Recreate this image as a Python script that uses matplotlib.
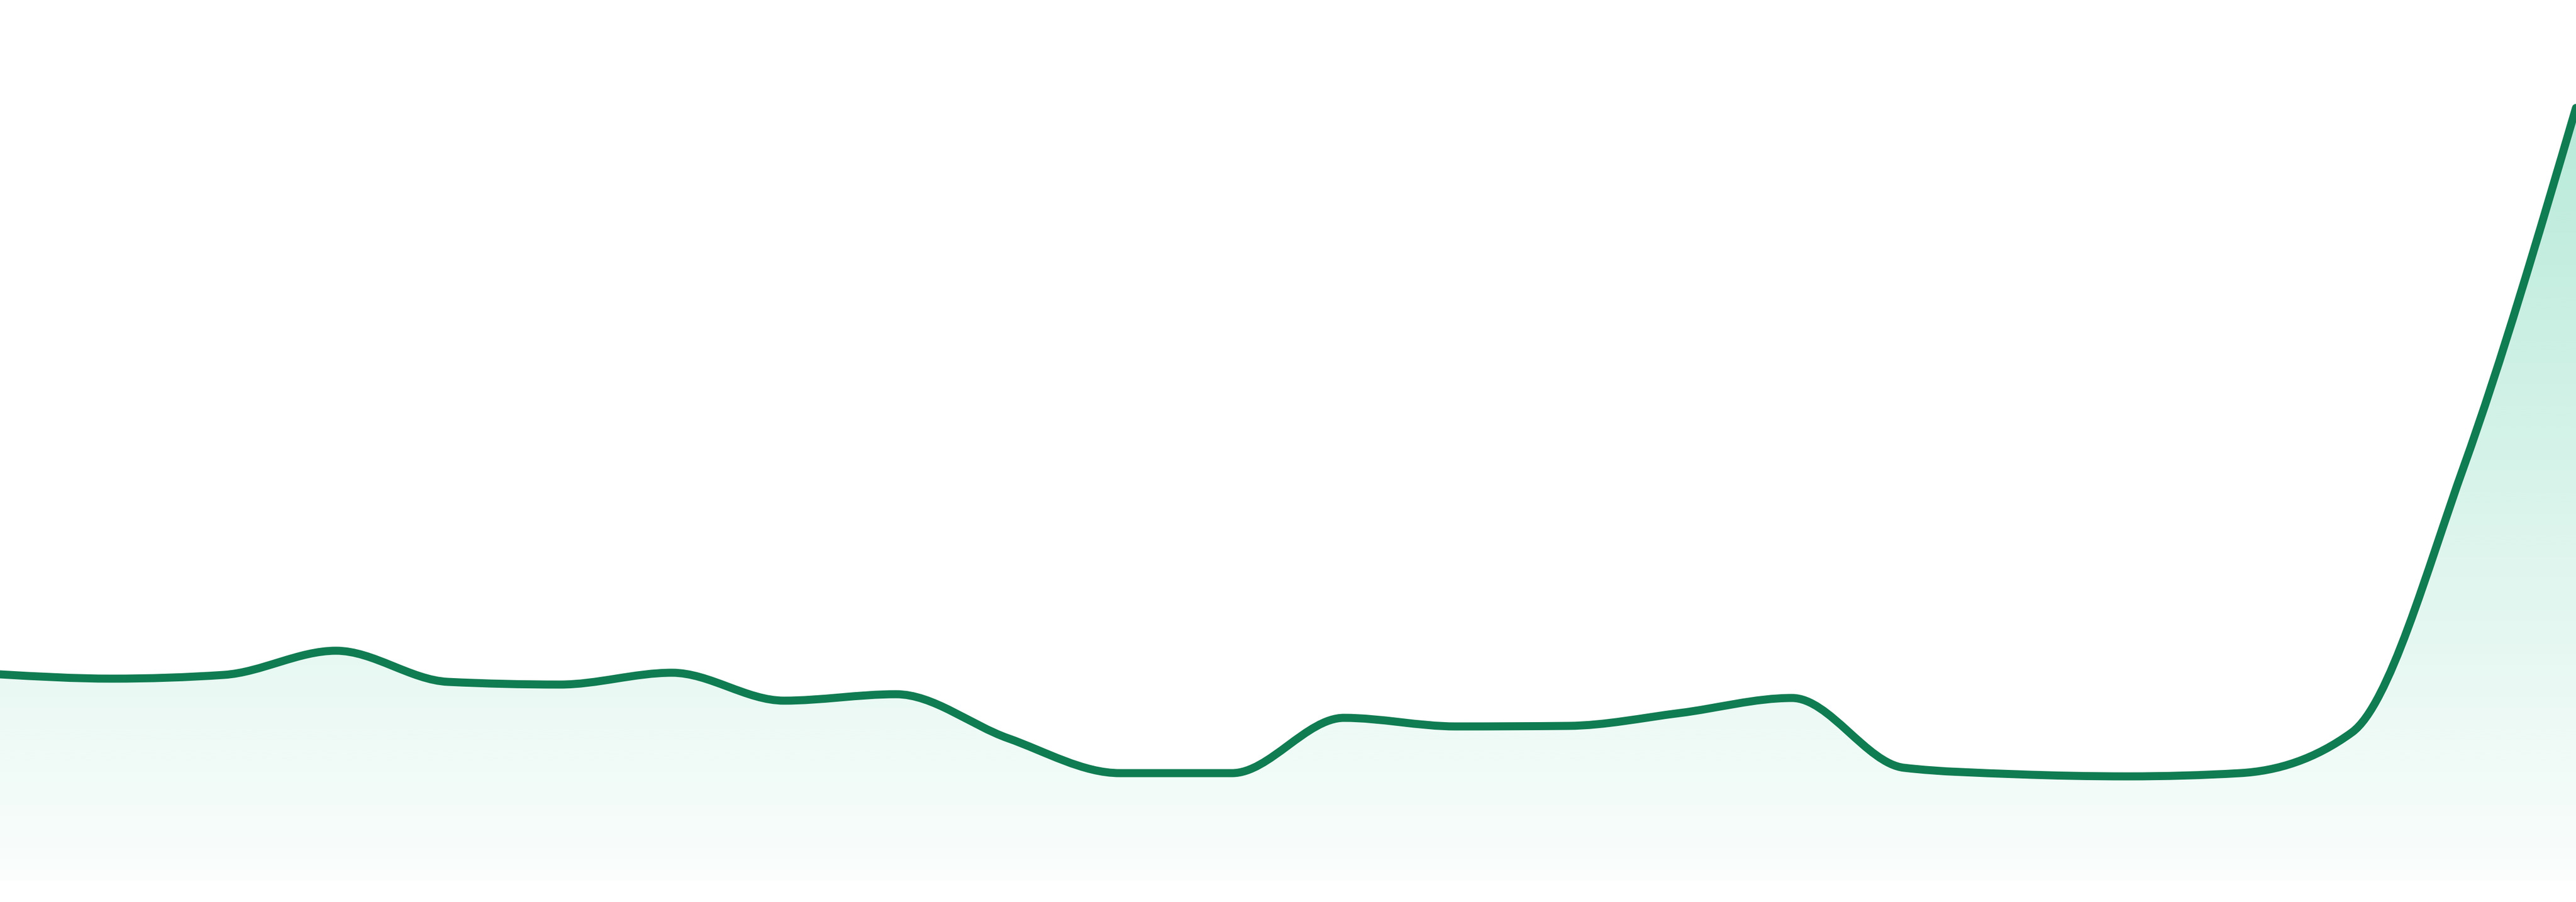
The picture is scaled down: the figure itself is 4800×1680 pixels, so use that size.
import numpy as np
import matplotlib
matplotlib.use("Agg")
import matplotlib.pyplot as plt
from matplotlib.path import Path
from matplotlib.patches import PathPatch
from matplotlib.colors import to_rgb

# values (24 evenly spaced points)
days = np.arange(24)
values = [38.4, 37.6, 38.3, 42.8, 37.0, 36.5, 38.7, 33.5, 34.7, 26.5, 20.0, 20.0,
          30.3, 28.7, 28.8, 31.2, 34.0, 21.0, 19.8, 19.4, 20.0, 27.6, 77.2, 143.9]

line_color = "#107c52"
fill_color = "#10b981"


def monotone_tangents(x, y):
    # same slopes as d3 curveMonotoneX
    n = len(x)
    t = np.zeros(n)
    for i in range(1, n - 1):
        h0 = x[i] - x[i - 1]
        h1 = x[i + 1] - x[i]
        s0 = (y[i] - y[i - 1]) / h0
        s1 = (y[i + 1] - y[i]) / h1
        p = (s0 * h1 + s1 * h0) / (h0 + h1)
        t[i] = (np.sign(s0) + np.sign(s1)) * min(abs(s0), abs(s1), 0.5 * abs(p))
    h = x[1] - x[0]
    t[0] = (3 * (y[1] - y[0]) / h - t[1]) / 2
    h = x[-1] - x[-2]
    t[-1] = (3 * (y[-1] - y[-2]) / h - t[-2]) / 2
    return t


def curve_verts(x, y):
    t = monotone_tangents(x, y)
    verts = [(x[0], y[0])]
    codes = [Path.MOVETO]
    for i in range(len(x) - 1):
        dx = (x[i + 1] - x[i]) / 3
        verts += [(x[i] + dx, y[i] + dx * t[i]),
                  (x[i + 1] - dx, y[i + 1] - dx * t[i + 1]),
                  (x[i + 1], y[i + 1])]
        codes += [Path.CURVE4] * 3
    return verts, codes


x = days.astype(float)
y = np.array(values, dtype=float)
verts, codes = curve_verts(x, y)

fig = plt.figure(figsize=(16, 5.6), dpi=300)
ax = fig.add_axes([0, 0, 1, 1])
ax.set_xlim(0, 23)
ax.set_ylim(-4, 164)
ax.axis("off")

# gradient fill under the curve
fill_verts = verts + [(x[-1], 0), (x[0], 0), (x[0], y[0])]
fill_codes = codes + [Path.LINETO, Path.LINETO, Path.CLOSEPOLY]
fill_patch = PathPatch(Path(fill_verts, fill_codes), facecolor="none", edgecolor="none")
ax.add_patch(fill_patch)

top = y.max()
grad = np.zeros((256, 2, 4))
grad[:, :, :3] = to_rgb(fill_color)
grad[:, :, 3] = np.linspace(0.3, 0.02, 256)[:, None]
img = ax.imshow(grad, extent=[x[0], x[-1], 0, top], origin="upper",
                aspect="auto", interpolation="bilinear", zorder=1)
img.set_clip_path(fill_patch)

line = PathPatch(Path(verts, codes), facecolor="none", edgecolor=line_color,
                 lw=3.6, capstyle="round", joinstyle="round", zorder=3)
ax.add_patch(line)

fig.savefig("out.png", dpi=300, facecolor="white")
